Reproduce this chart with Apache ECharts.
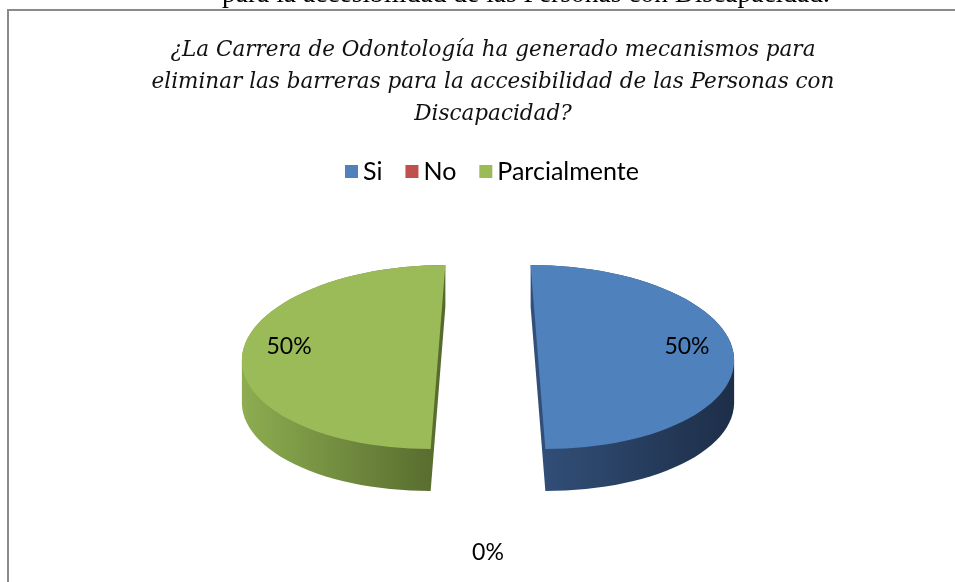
<!DOCTYPE html>
<html>
<head>
<meta charset="utf-8">
<script src="https://cdn.jsdelivr.net/npm/echarts@6/dist/echarts.min.js"></script>
<style>
  html, body { margin: 0; padding: 0; background: #fff; }
  #chart-wrapper { width: 955px; height: 582px; }
</style>
</head>
<body>
<div id="chart-wrapper"></div>
<script>
// data
const categories = ["Si", "No", "Parcialmente"];
const values = [50, 0, 50];
const colors = ["#4F81BD", "#C0504D", "#9BBB59"];
const sideColors = [
  ["#33507a", "#1d2e48"],
  ["#8c3a38", "#5e2524"],
  ["#8dad50", "#55692d"],
];
const titleText =
  "¿La Carrera de Odontología ha generado mecanismos para\neliminar las barreras para la accesibilidad de las Personas con\nDiscapacidad?";
const pageText = "para la accesibilidad de las Personas con Discapacidad.";

// pie geometry (screen px)
const cx = 488;
const cy = 357;
const rx = 196;
const ry = 92;
const depth = 42;
const explode = 50;

// angles, clockwise from top
const total = values.reduce((a, b) => a + b, 0);
let acc = -Math.PI / 2;
const angles = values.map((v) => {
  const a0 = acc;
  acc += (v / total) * Math.PI * 2;
  return [a0, acc];
});

const hull = (pts) => {
  const p = pts.slice().sort((a, b) => a[0] - b[0] || a[1] - b[1]);
  const cross = (o, a, b) =>
    (a[0] - o[0]) * (b[1] - o[1]) - (a[1] - o[1]) * (b[0] - o[0]);
  const lower = [];
  for (const q of p) {
    while (lower.length >= 2 && cross(lower[lower.length - 2], lower[lower.length - 1], q) <= 0) lower.pop();
    lower.push(q);
  }
  const upper = [];
  for (let i = p.length - 1; i >= 0; i--) {
    const q = p[i];
    while (upper.length >= 2 && cross(upper[upper.length - 2], upper[upper.length - 1], q) <= 0) upper.pop();
    upper.push(q);
  }
  upper.pop();
  lower.pop();
  return lower.concat(upper);
};

const renderSlice = (params, api) => {
  const i = params.dataIndex;
  const v = api.value(0);
  const [a0, a1] = angles[i];
  const mid = (a0 + a1) / 2;
  const label = Math.round((v / total) * 100) + "%";
  const font = '23px "Lato"';
  if (v <= 0) {
    return {
      type: "text",
      style: {
        text: label,
        x: cx + Math.cos(mid) * rx * 0.76,
        y: cy + Math.sin(mid) * (ry + depth + 62),
        font: font,
        fill: "#000",
        align: "center",
        verticalAlign: "middle",
      },
    };
  }
  const ox = cx + explode * Math.cos(mid);
  const oy = cy + explode * Math.sin(mid) * (ry / rx);
  const k = 0.0016 * (ox - cx); // slight perspective lean
  const top = [[ox, oy]];
  const n = 60;
  for (let s = 0; s <= n; s++) {
    const a = a0 + ((a1 - a0) * s) / n;
    const y = ry * Math.sin(a);
    top.push([ox + rx * Math.cos(a) + k * y, oy + y]);
  }
  const side = hull(top.concat(top.map((p) => [p[0], p[1] + depth])));
  return {
    type: "group",
    children: [
      {
        type: "polygon",
        shape: { points: side },
        style: {
          fill: new echarts.graphic.LinearGradient(0, 0, 1, 0, [
            { offset: 0, color: sideColors[i][0] },
            { offset: 1, color: sideColors[i][1] },
          ]),
        },
      },
      {
        type: "polygon",
        shape: { points: top },
        style: { fill: colors[i] },
      },
      {
        type: "text",
        style: {
          text: label,
          x: ox + Math.cos(mid) * rx * 0.76,
          y: oy + Math.sin(mid) * ry * 0.76 - 10,
          font: font,
          fill: "#000",
          align: "center",
          verticalAlign: "middle",
        },
      },
    ],
  };
};

const chart = echarts.init(document.getElementById("chart-wrapper"));
const option = {
  backgroundColor: "#fff",
  animation: false,
  title: {
    text: titleText,
    left: 488,
    top: 29,
    textAlign: "center",
    textStyle: {
      fontFamily: "DejaVu Serif",
      fontStyle: "italic",
      fontWeight: "normal",
      fontSize: 21.5,
      lineHeight: 32,
      color: "#111",
    },
  },
  legend: {
    top: 154,
    left: 340,
    icon: "rect",
    itemWidth: 13,
    itemHeight: 13,
    itemGap: 23,
    data: categories,
    textStyle: { fontFamily: "Lato", fontSize: 25, color: "#000" },
  },
  graphic: [
    {
      type: "text",
      left: 222,
      top: -19,
      style: {
        text: pageText,
        font: '27.5px "Liberation Serif"',
        fill: "#000",
      },
    },
    {
      type: "rect",
      shape: { x: 8, y: 10, width: 1000, height: 1000 },
      style: { fill: null, stroke: "#8a8a8a", lineWidth: 2 },
      silent: true,
    },
  ],
  series: [
    {
      type: "pie",
      radius: [0, 0],
      silent: true,
      label: { show: false },
      labelLine: { show: false },
      data: categories.map((c, i) => ({
        name: c,
        value: values[i],
        itemStyle: { color: colors[i] },
      })),
    },
    {
      type: "custom",
      coordinateSystem: "none",
      renderItem: renderSlice,
      data: values.map((v, i) => ({ name: categories[i], value: [v] })),
    },
  ],
};
chart.setOption(option);
</script>
</body>
</html>
